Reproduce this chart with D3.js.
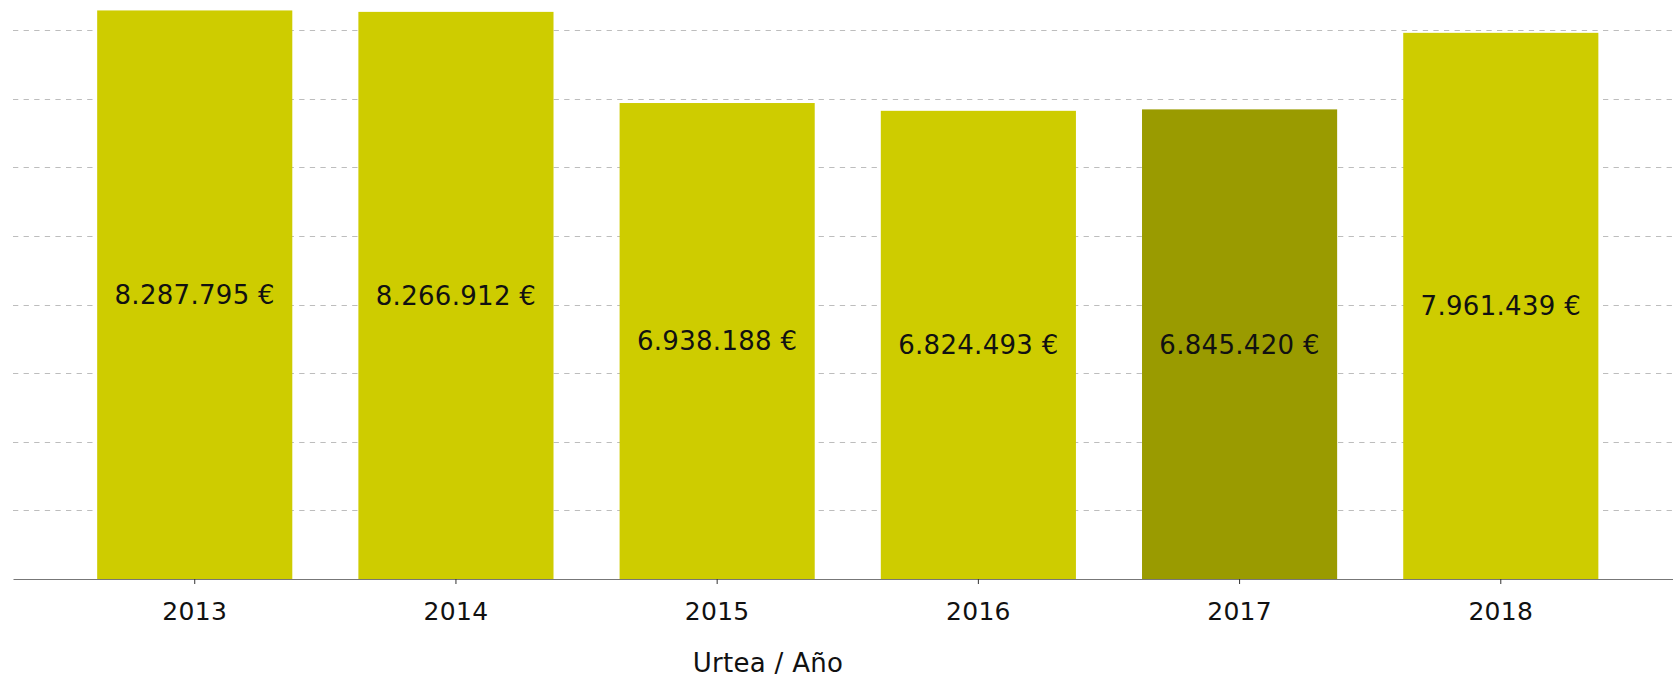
<!DOCTYPE html>
<html>
<head>
<meta charset="utf-8">
<script src="https://cdn.jsdelivr.net/npm/d3@7"></script>
<style>
  body { margin: 0; background: #fff; }
  svg text { font-family: "DejaVu Sans", sans-serif; fill: #111; letter-spacing: 0.3px; }
</style>
</head>
<body>
<svg id="chart" width="1673" height="679"></svg>
<script>
const years = ["2013", "2014", "2015", "2016", "2017", "2018"];
const amounts = [8287795, 8266912, 6938188, 6824493, 6845420, 7961439];
const highlightYear = "2017";
const gridTicks = [1000000, 2000000, 3000000, 4000000, 5000000, 6000000, 7000000, 8000000];
const axisTitle = "Urtea / Año";

const svg = d3.select("#chart");

const left = 13, right = 1673, baseY = 579;

const x = d3.scaleBand()
    .domain(years)
    .range([left, right])
    .paddingInner(0.253)
    .paddingOuter(0.304)
    .align(0.53);

const y = d3.scaleLinear()
    .domain([0, 8440000])
    .range([baseY, 0]);

const fmt = d => d3.format(",")(d).replace(/,/g, ".") + " €";

// dashed gridlines behind the bars
svg.append("g")
    .selectAll("line")
    .data(gridTicks)
    .join("line")
    .attr("x1", left)
    .attr("x2", right)
    .attr("y1", d => Math.round(y(d)) + 0.5)
    .attr("y2", d => Math.round(y(d)) + 0.5)
    .attr("stroke", "#bdbdbd")
    .attr("stroke-width", 1)
    .attr("stroke-dasharray", "5.3,5.3");

const data = years.map((yr, i) => ({ year: yr, value: amounts[i] }));

svg.append("g")
    .selectAll("rect")
    .data(data)
    .join("rect")
    .attr("x", d => x(d.year))
    .attr("width", x.bandwidth())
    .attr("y", d => y(d.value))
    .attr("height", d => baseY - y(d.value))
    .attr("fill", d => d.year === highlightYear ? "#9a9b00" : "#cecc00");

svg.append("g")
    .selectAll("text")
    .data(data)
    .join("text")
    .attr("x", d => x(d.year) + x.bandwidth() / 2)
    .attr("y", d => (y(d.value) + baseY) / 2)
    .attr("dy", "0.36em")
    .attr("text-anchor", "middle")
    .style("font-size", "26px")
    .text(d => fmt(d.value));

// x axis
const xAxis = svg.append("g")
    .attr("transform", `translate(0,${baseY})`)
    .call(d3.axisBottom(x).tickSize(5).tickSizeOuter(0).tickPadding(18));
xAxis.select(".domain").attr("stroke", "#777");
xAxis.selectAll(".tick line").attr("stroke", "#333");
xAxis.selectAll(".tick text")
    .style("font-size", "25px")
    .style("font-family", "DejaVu Sans, sans-serif")
    .attr("fill", "#111");

svg.append("text")
    .attr("x", 768)
    .attr("y", 672)
    .attr("text-anchor", "middle")
    .style("font-size", "26px")
    .text(axisTitle);
</script>
</body>
</html>
